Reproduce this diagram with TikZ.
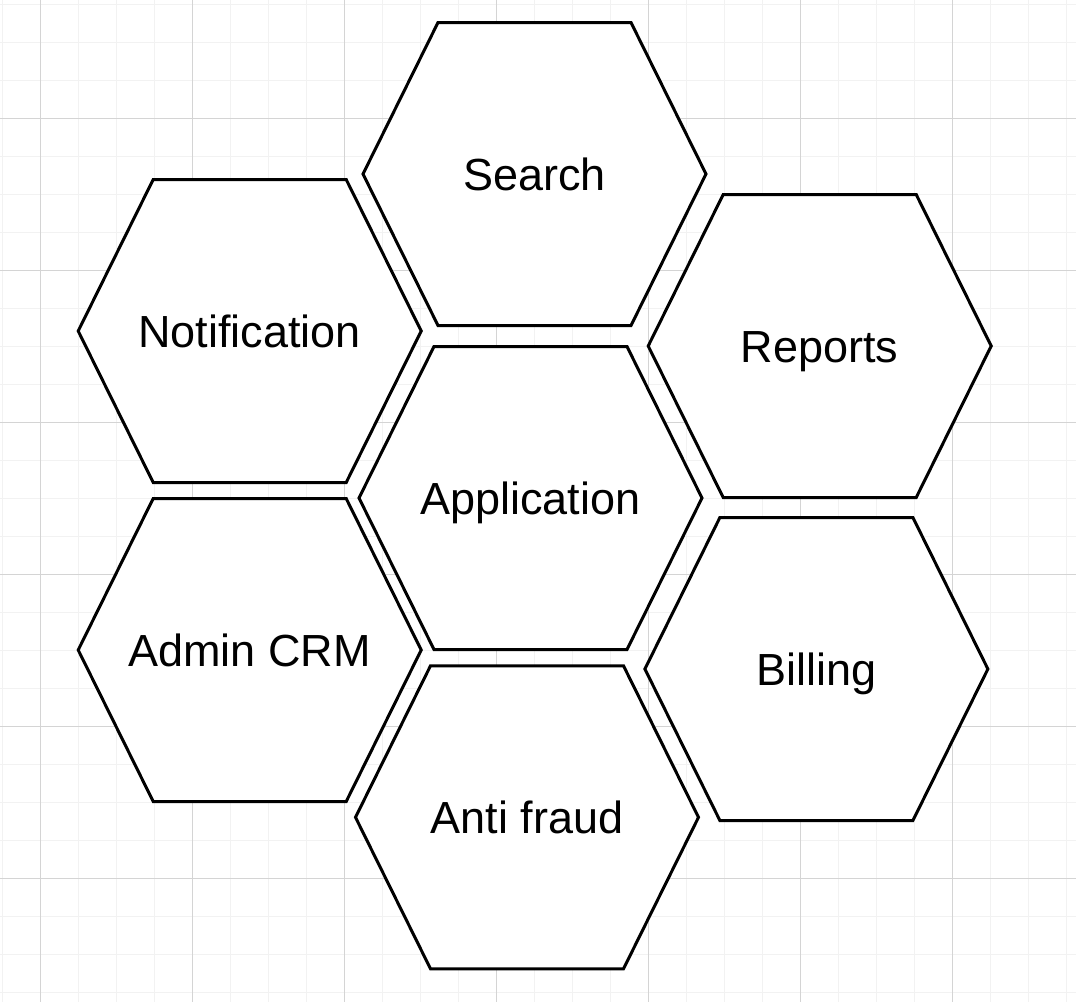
\documentclass[tikz,border=0pt]{standalone}
\usepackage{fontspec}
\setmainfont{Liberation Sans}
\usepackage{tikz}
\usetikzlibrary{shapes}
\definecolor{gridminor}{HTML}{F2F2F2}
\definecolor{gridmajor}{HTML}{D4D4D4}

\begin{document}
\begin{tikzpicture}[x=1pt, y=-1pt,
  hexline/.style={line width=3pt, fill=white},
  hexlabel/.style={font=\fontsize{45}{54}\selectfont, inner sep=0pt, anchor=base}]
\useasboundingbox (0,0) rectangle (1076,1002);
\fill[white] (0,0) rectangle (1076,1002);
% grid
\foreach \gx in {2,40,...,1066} \draw[gridminor, line width=1pt] (\gx,0) -- (\gx,1002);
\foreach \gy in {4,42,...,992} \draw[gridminor, line width=1pt] (0,\gy) -- (1076,\gy);
\foreach \gx in {40,192,...,952} \draw[gridmajor, line width=1pt] (\gx,0) -- (\gx,1002);
\foreach \gy in {118,270,...,878} \draw[gridmajor, line width=1pt] (0,\gy) -- (1076,\gy);
% cells
\foreach \cx/\cy/\hname/\htext in {534.5/174/search/Search, 249.7/331/notification/Notification,
    819.7/346/reports/Reports, 530.5/498/application/Application, 249.7/650/admincrm/Admin CRM,
    816.4/669/billing/Billing, 527/817.3/antifraud/Anti fraud} {
  \draw[hexline] (\cx-171.5,\cy) -- ++(75,-151.5) -- ++(193,0) -- ++(75,151.5)
    -- ++(-75,151.5) -- ++(-193,0) -- cycle;
  \node[hexlabel] (\hname) at (\cx,\cy+16) {\htext};
}
\end{tikzpicture}
\end{document}
